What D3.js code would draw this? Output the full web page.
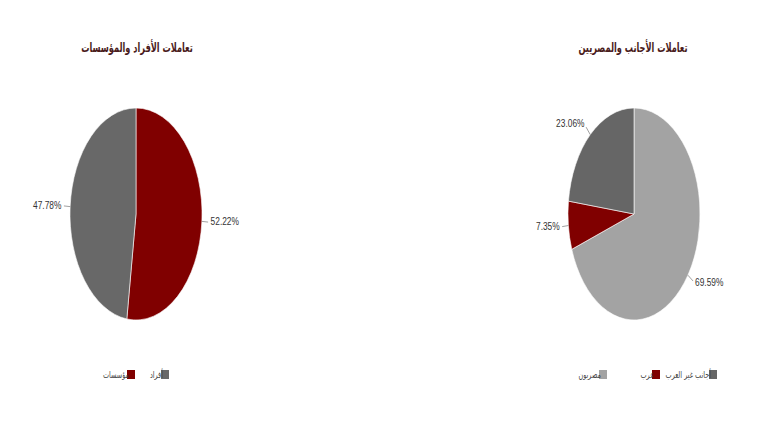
<!DOCTYPE html>
<html>
<head>
<meta charset="utf-8">
<script src="https://cdn.jsdelivr.net/npm/d3@7"></script>
<style>
  html, body { margin: 0; padding: 0; background: #ffffff; }
  svg { display: block; }
</style>
</head>
<body>
<svg id="chart" width="768" height="439"></svg>
<script>
// ---- data ----
const titles = ["تعاملات الأفراد والمؤسسات", "تعاملات الأجانب والمصريين"];
const leftCategories = ["مؤسسات", "أفراد"];
const leftValues = [52.22, 47.78];
const rightCategories = ["مصريون", "عرب", "أجانب غير العرب"];
const rightValues = [69.59, 7.35, 23.06];

const leftColors = ["#800000", "#686868"];
const rightColors = ["#a3a3a3", "#800000", "#666666"];

const svg = d3.select("#chart");
const R = 106;          // vertical radius
const SX = 0.623;       // horizontal squeeze (elliptical pies)
const fmt = v => v.toFixed(2) + "%";

// horizontally condense a text to match the squeezed reference
function squeeze(sel, f) {
  sel.each(function () {
    const w = this.getComputedTextLength();
    d3.select(this).attr("textLength", w * f).attr("lengthAdjust", "spacingAndGlyphs");
  });
}

function drawPie(cfg) {
  const g = svg.append("g").attr("transform", `translate(${cfg.cx},${cfg.cy})`);
  const data = cfg.values.map((v, i) => ({ name: cfg.categories[i], value: v, color: cfg.colors[i] }));
  const pie = d3.pie().sort(null).value(d => d.value);
  const arcs = pie(data);
  const arc = d3.arc().innerRadius(0).outerRadius(R);

  const pg = g.append("g").attr("transform", `scale(${SX},1)`);
  pg.selectAll("path").data(arcs).join("path")
    .attr("d", arc)
    .attr("fill", d => d.data.color)
    .attr("stroke", "#ffffff")
    .attr("stroke-width", 0.6)
    .attr("vector-effect", "non-scaling-stroke");

  const pt = (a, r) => [Math.sin(a) * r * SX, -Math.cos(a) * r];
  arcs.forEach(d => {
    const a = (d.startAngle + d.endAngle) / 2;
    const p0 = pt(a, R);
    const p1 = pt(a, R + 10);
    const p2 = pt(a, R + 14);
    g.append("line")
      .attr("x1", p0[0]).attr("y1", p0[1])
      .attr("x2", p1[0]).attr("y2", p1[1])
      .attr("stroke", "#888").attr("stroke-width", 0.8);
    const right = Math.sin(a) >= 0;
    const t = g.append("text")
      .attr("x", p2[0])
      .attr("y", p2[1])
      .attr("text-anchor", right ? "start" : "end")
      .attr("dominant-baseline", "middle")
      .attr("font-family", "Liberation Sans, Arial, sans-serif")
      .attr("font-size", 11)
      .attr("fill", "#333")
      .text(fmt(d.data.value));
    squeeze(t, 0.76);
  });

  // title
  const tt = svg.append("text")
    .attr("x", cfg.cx + cfg.titleDx)
    .attr("y", 48)
    .attr("text-anchor", "middle")
    .attr("dominant-baseline", "middle")
    .attr("font-family", "DejaVu Sans, sans-serif")
    .attr("font-weight", "bold")
    .attr("font-size", 13)
    .attr("fill", "#4a1c1c")
    .text(cfg.title);
  squeeze(tt, 0.63);

  // legend (items laid out right-to-left)
  const lg = svg.append("g");
  cfg.legend.forEach(item => {
    const d = data[item.i];
    lg.append("rect")
      .attr("x", item.x).attr("y", 370)
      .attr("width", 8).attr("height", 9)
      .attr("fill", d.color);
    const lt = lg.append("text")
      .attr("x", item.x + 2)
      .attr("y", 375)
      .attr("text-anchor", "end")
      .attr("dominant-baseline", "middle")
      .attr("font-family", "DejaVu Sans, sans-serif")
      .attr("font-size", 9.5)
      .attr("fill", "#444")
      .text(d.name);
    squeeze(lt, 0.68);
  });
}

drawPie({
  cx: 136, cy: 214, title: titles[0], titleDx: 1,
  categories: leftCategories, values: leftValues, colors: leftColors,
  legend: [{ i: 1, x: 161 }, { i: 0, x: 127 }]
});

drawPie({
  cx: 634, cy: 214, title: titles[1], titleDx: -1,
  categories: rightCategories, values: rightValues, colors: rightColors,
  legend: [{ i: 2, x: 709 }, { i: 1, x: 652 }, { i: 0, x: 599 }]
});
</script>
</body>
</html>
